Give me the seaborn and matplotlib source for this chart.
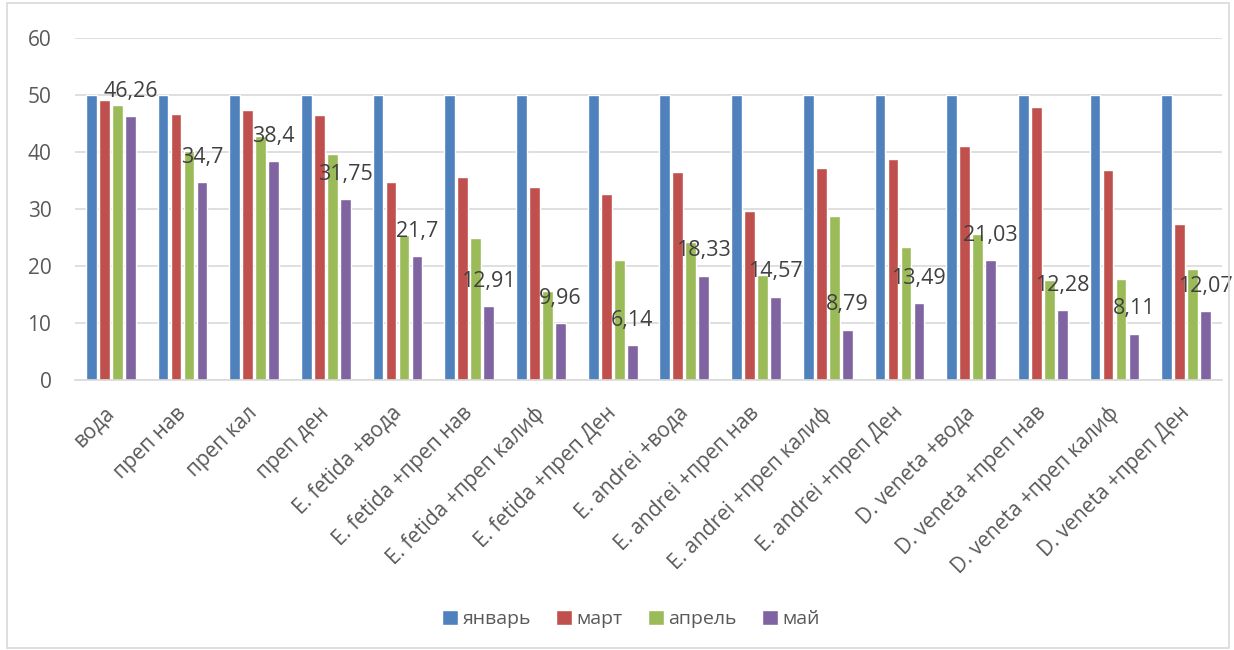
import matplotlib
matplotlib.use("Agg")
import matplotlib.pyplot as plt
from matplotlib.patches import Rectangle
from matplotlib.transforms import ScaledTranslation
import seaborn as sns
import pandas as pd

categories = [
    "вода", "преп нав", "преп кал", "преп ден",
    "E. fetida +вода", "E. fetida +преп нав", "E. fetida +преп калиф", "E. fetida +преп Ден",
    "E. andrei +вода", "E. andrei +преп нав", "E. andrei +преп калиф", "E. andrei +преп Ден",
    "D. veneta +вода", "D. veneta +преп нав", "D. veneta +преп калиф", "D. veneta +преп Ден",
]
months = ["январь", "март", "апрель", "май"]

january = [50] * 16
march = [49.1, 46.7, 47.4, 46.5, 34.8, 35.6, 33.9, 32.7,
         36.5, 29.7, 37.2, 38.8, 41.0, 47.9, 36.9, 27.4]
april = [48.2, 40.2, 42.8, 39.7, 25.5, 24.9, 15.7, 21.1,
         24.2, 18.5, 28.8, 23.3, 25.6, 17.6, 17.7, 19.5]
may = [46.26, 34.7, 38.4, 31.75, 21.7, 12.91, 9.96, 6.14,
       18.33, 14.57, 8.79, 13.49, 21.03, 12.28, 8.11, 12.07]

colors = ["#4F81BD", "#C0504D", "#9BBB59", "#8064A2"]

series = [january, march, april, may]
df = pd.DataFrame(
    [(c, m, v) for m, vals in zip(months, series) for c, v in zip(categories, vals)],
    columns=["variant", "month", "value"],
)

sns.set_style("white")
plt.rcParams["font.family"] = ["Open Sans", "DejaVu Sans"]

fig = plt.figure(figsize=(12.34, 6.5), dpi=100)
ax = fig.add_axes([75 / 1234, 1 - 380 / 650, (1222 - 75) / 1234, (380 - 38) / 650])

sns.barplot(data=df, x="variant", y="value", hue="month", order=categories,
            hue_order=months, palette=colors, width=0.725, gap=0.17,
            saturation=1, ax=ax, legend=True)

ax.set_ylim(0, 60)
ax.set_xlim(-0.5, len(categories) - 0.5)
ax.set_yticks(range(0, 61, 10))
ax.yaxis.grid(True, color="#D9D9D9", linewidth=1.2)
ax.set_axisbelow(True)
for side in ["top", "right", "left"]:
    ax.spines[side].set_visible(False)
ax.spines["bottom"].set_color("#D9D9D9")
ax.spines["bottom"].set_linewidth(1.2)
ax.tick_params(axis="both", length=0, colors="#595959", labelsize=15)
ax.tick_params(axis="y", pad=17)
ax.set_xlabel("")
ax.set_ylabel("")
ax.set_xticks(range(len(categories)))
ax.set_xticklabels(categories, rotation=45, ha="right", va="top",
                   rotation_mode="anchor", fontsize=15, color="#595959")
ax.tick_params(axis="x", pad=6)
shift = ScaledTranslation(-7 / 100, -14 / 100, fig.dpi_scale_trans)
for lbl in ax.get_xticklabels():
    lbl.set_transform(lbl.get_transform() + shift)

# value labels above the May bars
for patch, val in zip(ax.containers[3], may):
    x = patch.get_x() + patch.get_width() / 2
    ax.annotate(f"{val:g}".replace(".", ","), (x, val), xytext=(0, 18),
                textcoords="offset points", ha="center", va="center",
                fontsize=15.5, color="#404040")

handles, labels = ax.get_legend_handles_labels()
ax.get_legend().remove()
fig.legend(handles, labels, loc="center", bbox_to_anchor=(631 / 1234, 1 - 619 / 650),
           ncol=4, frameon=False, fontsize=14, handlelength=0.8, handleheight=0.8,
           handletextpad=0.25, columnspacing=1.3, labelcolor="#595959")

fig.patches.append(Rectangle((7 / 1234, 2 / 650), 1 - 12 / 1234, 1 - 5 / 650,
                             transform=fig.transFigure, fill=False,
                             edgecolor="#D9D9D9", linewidth=1.2))

fig.savefig("out.png", dpi=100)
